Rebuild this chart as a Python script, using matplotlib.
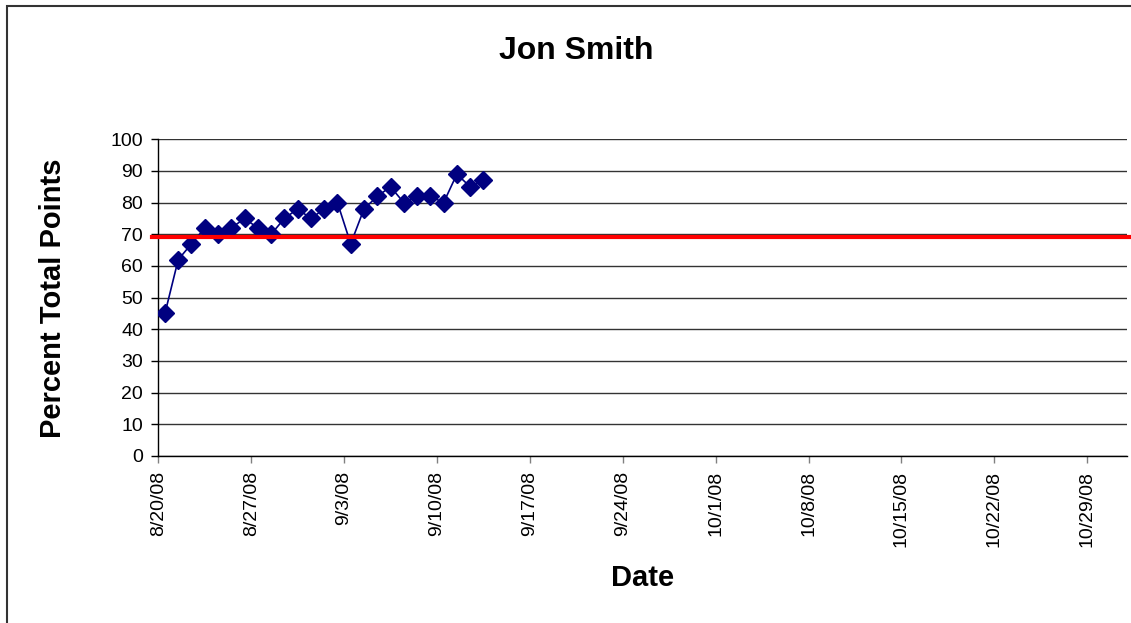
#Percent of total points per day for one student
import pandas as pd
import matplotlib.pyplot as plt
from matplotlib.patches import Rectangle

plt.rcParams['font.family'] = ['Liberation Sans', 'DejaVu Sans']

# daily scores, 8/20/08 .. 9/13/08
dates = pd.date_range('2008-08-20', periods=25, freq='D')
scores = [45, 62, 67, 72, 70, 72, 75, 72, 70, 75, 78, 75, 78, 80, 67,
          78, 82, 85, 80, 82, 82, 80, 89, 85, 87]
target = 69

tick_labels = ['8/20/08', '8/27/08', '9/3/08', '9/10/08', '9/17/08', '9/24/08',
               '10/1/08', '10/8/08', '10/15/08', '10/22/08', '10/29/08']
tick_dates = pd.to_datetime(tick_labels, format='%m/%d/%y')
y_ticks = [0, 10, 20, 30, 40, 50, 60, 70, 80, 90, 100]

fig = plt.figure(figsize=(11.31, 6.23), dpi=100)
ax = fig.add_axes([0.13997, 0.26806, 0.85650, 0.50835])

# excel puts each point in the middle of its day
x = dates + pd.Timedelta(hours=12)
ax.plot(x, scores, color='#000080', lw=1.2, marker='D', ms=9,
        mec='#000080', mfc='#000080', zorder=3)

ax.plot([-0.0065, 1.01], [target, target], color='#ff0000', lw=3,
        transform=ax.get_yaxis_transform(), clip_on=False, zorder=4)

ax.set_xlim(pd.Timestamp('2008-08-20'), pd.Timestamp('2008-11-01'))
ax.set_ylim(0, 100)
ax.set_xticks(tick_dates)
ax.set_xticklabels(tick_labels, rotation=90, fontsize=14)
ax.set_yticks(y_ticks)
ax.set_yticklabels([str(v) for v in y_ticks], fontsize=14)
ax.tick_params(axis='x', direction='out', length=5, width=1, color='#808080', pad=6)
ax.tick_params(axis='y', direction='out', length=5, width=1, color='#000000', pad=6)

ax.grid(axis='y', color='#333333', lw=1)
ax.set_axisbelow(True)
for s in ['top', 'right']:
    ax.spines[s].set_visible(False)
ax.spines['left'].set_linewidth(1)
ax.spines['bottom'].set_linewidth(1)

fig.text(0.5093, 0.905, 'Jon Smith', fontsize=23, fontweight='bold',
         ha='center', va='baseline')
fig.text(0.0466, 0.5217, 'Percent Total Points', fontsize=21, fontweight='bold',
         rotation=90, ha='center', va='center')
fig.text(0.5685, 0.0594, 'Date', fontsize=21, fontweight='bold',
         ha='center', va='baseline')

# chart area border (right and bottom edges are off the picture)
fig.add_artist(Rectangle((6.5 / 1131, -0.1), 1.2, 1 - 6.5 / 623 + 0.1,
                         transform=fig.transFigure, fill=False,
                         ec='#333333', lw=1.5))

plt.savefig('out.png', dpi=100)
